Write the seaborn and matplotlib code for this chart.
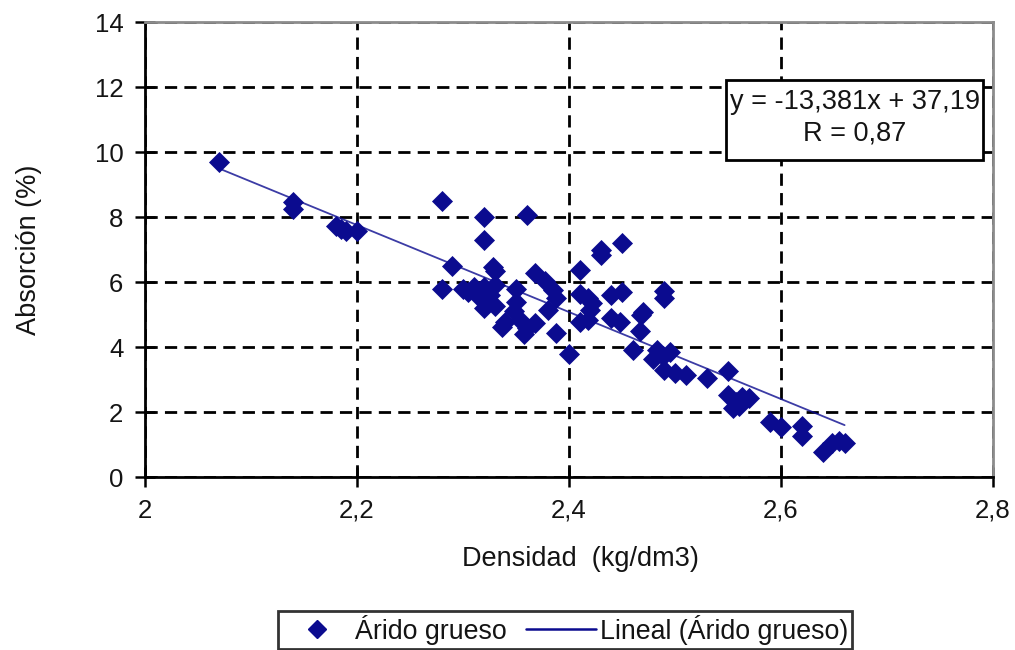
import numpy as np
import pandas as pd
import matplotlib
matplotlib.use("Agg")
import matplotlib.pyplot as plt
import seaborn as sns
from matplotlib.patches import Rectangle
from matplotlib.lines import Line2D

# Densidad (kg/dm3) y absorción (%) de las muestras de árido grueso
densidad = [
    2.07, 2.14, 2.14, 2.18, 2.185, 2.19, 2.20,
    2.28, 2.28, 2.29, 2.30, 2.31, 2.32, 2.33, 2.32, 2.32, 2.316, 2.32, 2.33,
    2.325, 2.305, 2.33, 2.328, 2.34, 2.337, 2.35, 2.35, 2.348, 2.354, 2.36,
    2.358, 2.368, 2.36, 2.368, 2.377, 2.385, 2.388, 2.38, 2.388, 2.40,
    2.41, 2.41, 2.418, 2.42, 2.41, 2.418, 2.422, 2.43, 2.43, 2.45,
    2.44, 2.45, 2.44, 2.448, 2.468, 2.47, 2.467, 2.46, 2.49, 2.49,
    2.483, 2.489, 2.479, 2.49, 2.495, 2.50, 2.51, 2.53, 2.55, 2.55,
    2.563, 2.555, 2.56, 2.57, 2.558, 2.59, 2.60, 2.62, 2.62, 2.64,
    2.648, 2.66, 2.655,
]
absorcion = [
    9.70, 8.45, 8.25, 7.72, 7.62, 7.58, 7.58,
    8.50, 5.80, 6.48, 5.80, 5.86, 5.86, 5.90, 8.00, 7.30, 5.50, 5.20, 5.25,
    5.60, 5.70, 6.35, 6.45, 4.78, 4.62, 5.80, 5.40, 5.10, 4.83, 4.57,
    4.40, 4.73, 8.05, 6.27, 6.02, 5.75, 5.50, 5.14, 4.42, 3.78,
    6.38, 5.62, 5.52, 5.14, 4.78, 4.83, 5.35, 6.98, 6.82, 7.20,
    5.60, 5.70, 4.88, 4.78, 4.98, 5.08, 4.50, 3.92, 5.72, 5.50,
    3.90, 3.72, 3.62, 3.30, 3.85, 3.20, 3.14, 3.05, 3.26, 2.52,
    2.47, 2.12, 2.18, 2.42, 2.30, 1.70, 1.55, 1.58, 1.25, 0.78,
    1.04, 1.06, 1.10,
]

# Recta de tendencia lineal
pendiente = -13.381
ordenada = 37.19
r_valor = 0.87

x_ticks = [2.0, 2.2, 2.4, 2.6, 2.8]
x_tick_labels = ["2", "2,2", "2,4", "2,6", "2,8"]
y_ticks = [0, 2, 4, 6, 8, 10, 12, 14]
y_tick_labels = ["0", "2", "4", "6", "8", "10", "12", "14"]

serie = "Árido grueso"
serie_tendencia = "Lineal (Árido grueso)"

sns.set_theme(style="white")
plt.rcParams["font.family"] = ["Liberation Sans", "DejaVu Sans"]

azul = "#0b0b8f"
texto = "#141414"

df = pd.DataFrame({"Densidad": densidad, "Absorcion": absorcion})
x_rango = np.array([min(densidad), max(densidad)])
df_tend = pd.DataFrame({"Densidad": x_rango, "Absorcion": pendiente * x_rango + ordenada})

fig = plt.figure(figsize=(10.15, 6.5), dpi=100)
ax = fig.add_axes([0.14286, 0.26615, 0.83547, 0.7])

sns.scatterplot(data=df, x="Densidad", y="Absorcion", marker="D", s=115,
                color=azul, linewidth=0, ax=ax, zorder=4, legend=False)
sns.lineplot(data=df_tend, x="Densidad", y="Absorcion", color=azul, lw=1.3,
             alpha=0.8, ax=ax, zorder=3, legend=False)

ax.set_xlim(2.0, 2.8)
ax.set_ylim(0, 14)
ax.set_xticks(x_ticks)
ax.set_xticklabels(x_tick_labels)
ax.set_yticks(y_ticks)
ax.set_yticklabels(y_tick_labels)

# Cuadrícula discontinua negra
ax.grid(True, color="black", lw=2.0, dashes=(4.4, 2.6), zorder=1)
ax.set_axisbelow(True)

for lado in ("left", "bottom"):
    ax.spines[lado].set_color("black")
    ax.spines[lado].set_linewidth(2.0)
for lado in ("top", "right"):
    ax.spines[lado].set_color("#8c8c8c")
    ax.spines[lado].set_linewidth(2.0)

ax.tick_params(direction="inout", length=15, width=1.8, color="black",
               labelsize=18.5, labelcolor=texto, pad=8,
               left=True, bottom=True)

ax.set_xlabel("Densidad  (kg/dm3)", fontsize=19.5, color=texto)
ax.set_ylabel("Absorción (%)", fontsize=19.5, color=texto)
ax.xaxis.set_label_coords(0.513, -0.152)
ax.yaxis.set_label_coords(-0.122, 0.499)

# Cuadro con la ecuación de la recta
ax.add_patch(Rectangle((0.685, 0.6967), 0.303, 0.1758, transform=ax.transAxes,
                       facecolor="white", edgecolor="black", lw=2.0, zorder=5))
ax.text(0.8367, 0.824, f"y = {pendiente:.3f}x + {ordenada:.2f}".replace(".", ","),
        transform=ax.transAxes, ha="center", va="center", fontsize=19.5,
        color=texto, zorder=6)
ax.text(0.8367, 0.754, f"R = {r_valor:.2f}".replace(".", ","),
        transform=ax.transAxes, ha="center", va="center", fontsize=19.5,
        color=texto, zorder=6)

handles = [
    Line2D([], [], marker="D", color=azul, linestyle="none", markersize=9),
    Line2D([], [], color=azul, lw=1.8),
]
leg = fig.legend(handles, [serie, serie_tendencia], loc="center",
                 bbox_to_anchor=(0.5565, 0.031), ncol=2, fontsize=19.3,
                 frameon=True, fancybox=False, edgecolor="black",
                 handlelength=2.6, handletextpad=0.15, columnspacing=0.7,
                 borderpad=0.15, borderaxespad=0)
leg.get_frame().set_linewidth(2.0)
for t in leg.get_texts():
    t.set_color(texto)

fig.savefig("out.png", dpi=100)
